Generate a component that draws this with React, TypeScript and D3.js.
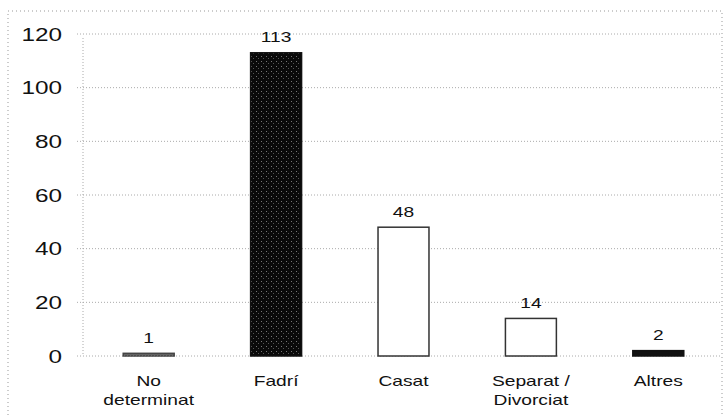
import React from "react";
import * as d3 from "d3";

const categories = ["No determinat", "Fadrí", "Casat", "Separat / Divorciat", "Altres"];
const labelLines = [["No", "determinat"], ["Fadrí"], ["Casat"], ["Separat /", "Divorciat"], ["Altres"]];
const values = [1, 113, 48, 14, 2];
const yTicks = [0, 20, 40, 60, 80, 100, 120];

const width = 725;
const height = 415;
const left = 85;
const right = 722;
const top = 34;
const bottom = 356;
const font = "'Liberation Sans', Arial, sans-serif";
// the scan is stretched sideways, so text is widened to match
const stretch = "scale(1.28,1)";

const fills = ["url(#grain)", "url(#speckle)", "#fff", "#fff", "#111"];
const strokes = ["#444", "#111", "#333", "#333", "#111"];

const App = () => {
  const x = d3.scaleBand().domain(categories).range([left, right]).paddingInner(0.6).paddingOuter(0.3);
  const y = d3.scaleLinear().domain([0, 120]).range([bottom, top]);

  return (
    <svg width={width} height={height} style={{ position: "absolute", left: 0, top: 0, background: "#fff" }}>
      <defs>
        <pattern id="speckle" width="5" height="5" patternUnits="userSpaceOnUse">
          <rect width="5" height="5" fill="#0a0a0a" />
          <rect x="1" y="1" width="1" height="1" fill="#777" />
          <rect x="3" y="3" width="1" height="1" fill="#555" />
        </pattern>
        <pattern id="grain" width="3" height="3" patternUnits="userSpaceOnUse">
          <rect width="3" height="3" fill="#666" />
          <rect x="1" y="1" width="1" height="1" fill="#ccc" />
        </pattern>
      </defs>

      {/* outer frame, dotted like the scan */}
      <path d={`M8,${height} V11 H${right} V${height}`} fill="none" stroke="#999" strokeWidth={1} strokeDasharray="1,3" />

      {/* grid */}
      {yTicks.map(t => (
        <line key={t} x1={77} x2={right} y1={y(t)} y2={y(t)} stroke="#aaa" strokeWidth={1} strokeDasharray="1,2" />
      ))}
      <line x1={83} x2={83} y1={y(120) + 4} y2={bottom} stroke="#aaa" strokeDasharray="1,2" />

      {yTicks.map(t => (
        <text key={t} transform={`translate(62,${y(t) + 6.5}) ${stretch}`} textAnchor="end" fontFamily={font} fontSize={19} fill="#111">
          {t}
        </text>
      ))}

      {categories.map((c, i) => (
        <g key={c}>
          <rect
            x={x(c)}
            y={y(values[i])}
            width={x.bandwidth()}
            height={bottom - y(values[i])}
            fill={fills[i]}
            stroke={strokes[i]}
            strokeWidth={1.5}
          />
          <text
            transform={`translate(${x(c) + x.bandwidth() / 2},${y(values[i]) - 10.5}) ${stretch}`}
            textAnchor="middle"
            fontFamily={font}
            fontSize={15}
            fill="#111"
          >
            {values[i]}
          </text>
          {labelLines[i].map((l, j) => (
            <text
              key={l}
              transform={`translate(${x(c) + x.bandwidth() / 2},${386 + j * 18.5}) ${stretch}`}
              textAnchor="middle"
              fontFamily={font}
              fontSize={15}
              fill="#111"
            >
              {l}
            </text>
          ))}
        </g>
      ))}
    </svg>
  );
};

export default App;
